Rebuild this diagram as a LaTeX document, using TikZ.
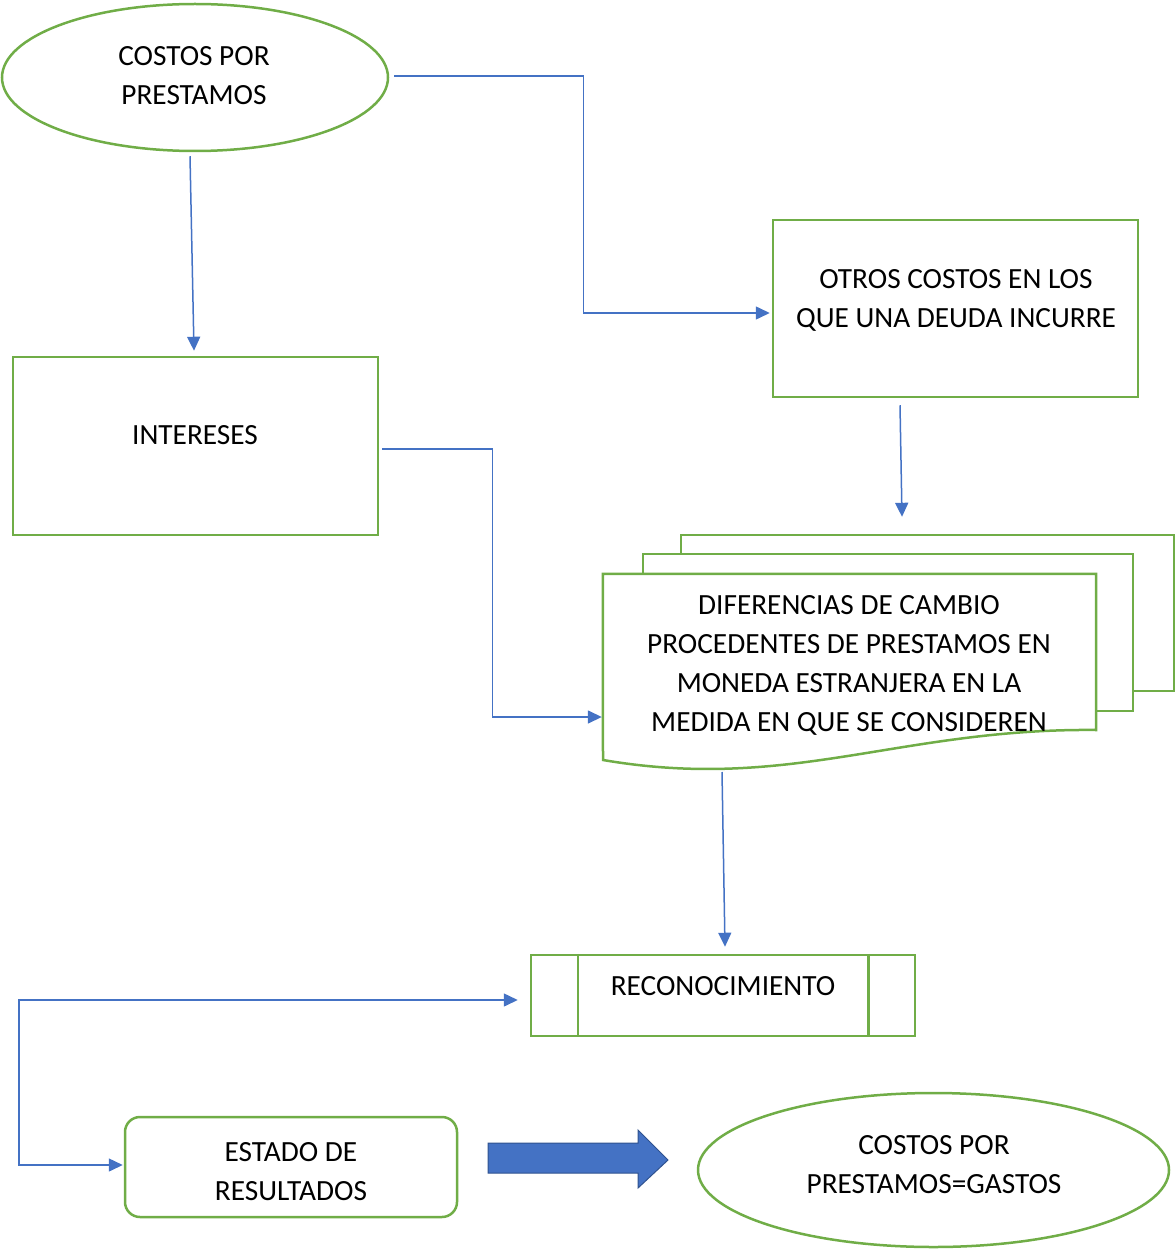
\documentclass[tikz,border=0pt]{standalone}
\usepackage{fontspec}
\setmainfont{Carlito}
\usetikzlibrary{shapes.geometric,arrows.meta}
\definecolor{lineGreen}{HTML}{70AD47}
\definecolor{linkBlue}{HTML}{4472C4}
\definecolor{arrowEdge}{HTML}{2F528F}
\begin{document}
\begin{tikzpicture}[x=1pt,y=-1pt,
  shapebox/.style={draw=lineGreen, line width=2.5pt, inner sep=0pt},
  sheet/.style={draw=lineGreen, line width=2.5pt, line join=miter},
  txt/.style={font=\fontsize{29.3}{39}\selectfont, align=center, inner sep=0pt},
  conn/.style={draw=linkBlue, line width=1.5pt, -{Triangle[length=14pt,width=13pt]}},
]
\useasboundingbox (0,0) rectangle (1175,1249);

% main shapes
\node[shapebox, ellipse, minimum width=386pt, minimum height=147pt] (costos) at (195,77.5) {};
\node[txt] (costosT) at (194,76) {COSTOS POR\\PRESTAMOS};

\node[shapebox, rectangle, minimum width=365pt, minimum height=178pt] (intereses) at (195.5,446) {};
\node[txt] (interesesT) at (195,435) {INTERESES};

\node[shapebox, rectangle, minimum width=365pt, minimum height=177pt] (otros) at (955.5,308.5) {};
\node[txt] (otrosT) at (956,300) {OTROS COSTOS EN LOS\\QUE UNA DEUDA INCURRE};

% stacked documents
\node[inner sep=0pt, minimum width=493pt, minimum height=186pt] (doc) at (849.5,667) {};
\draw[sheet] (681,554) -- (681,535) -- (1174,535) -- (1174,691) -- (1133,691);
\draw[sheet] (643,574) -- (643,554) -- (1133,554) -- (1133,711) -- (1096,711);
\draw[sheet] (doc.north west) -- (doc.north east) -- (1096,730)
  .. controls (900,728) and (790,792) .. (603,760) -- cycle;
\node[txt] (docT) at (849,665) {DIFERENCIAS DE CAMBIO\\PROCEDENTES DE PRESTAMOS EN\\MONEDA ESTRANJERA EN LA\\MEDIDA EN QUE SE CONSIDEREN};

% predefined process
\node[shapebox, rectangle, minimum width=384pt, minimum height=81pt] (recon) at (723,995.5) {};
\draw[sheet] ([shift={(48,0)}]recon.north west) -- ([shift={(48,0)}]recon.south west);
\draw[sheet] ([shift={(-48,0)}]recon.north east) -- ([shift={(-48,0)}]recon.south east);
\node[txt] (reconT) at (723,986) {RECONOCIMIENTO};

\node[shapebox, rectangle, rounded corners=15pt, minimum width=332pt, minimum height=100pt] (estado) at (291,1167) {};
\node[txt] (estadoT) at (291,1172) {ESTADO DE\\RESULTADOS};

\node[shapebox, ellipse, minimum width=471pt, minimum height=154pt] (gastos) at (933.5,1170) {};
\node[txt] (gastosT) at (934,1165) {COSTOS POR\\PRESTAMOS=GASTOS};

% block arrow
\fill[linkBlue, draw=arrowEdge, line width=1pt, line join=miter]
  (488,1143) -- (638,1143) -- (638,1130) -- (668,1160) -- (638,1188)
  -- (638,1173) -- (488,1173) -- cycle;

% connectors
\draw[conn] ([shift={(-5,4)}]costos.south) -- ([shift={(-1.5,-5)}]intereses.north);
\draw[conn] ([shift={(5,-1.5)}]costos.east) -- ++(189,0) |- ([shift={(-2,4.5)}]otros.west);
\draw[conn] ([shift={(-55.5,7)}]otros.south) -- ([shift={(52.5,-57)}]doc.north);
\draw[conn] ([shift={(3,3)}]intereses.east) -- ++(110,0) |- ([shift={(-1,50)}]doc.west);
\draw[conn] ([shift={(-127.5,105)}]doc.center) -- ([shift={(2,-7)}]recon.north);
\draw[draw=linkBlue, line width=1.5pt, {Triangle[length=14pt,width=13pt]}-{Triangle[length=14pt,width=13pt]}]
  ([shift={(-12,4.5)}]recon.west) -- (19,1000) |- ([shift={(-1,-2)}]estado.west);
\end{tikzpicture}
\end{document}
